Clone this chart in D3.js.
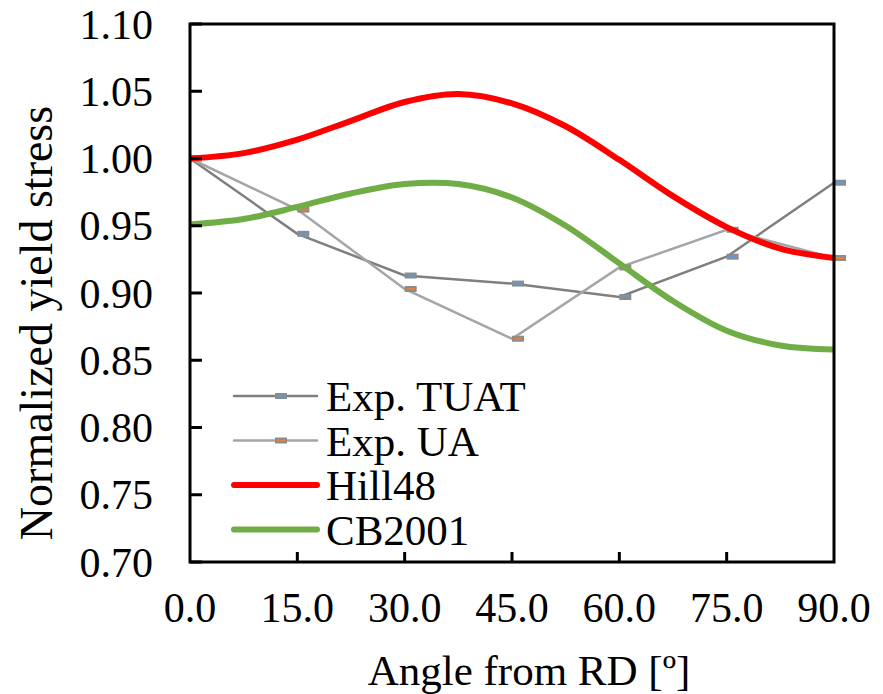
<!DOCTYPE html>
<html>
<head>
<meta charset="utf-8">
<script src="https://cdn.jsdelivr.net/npm/d3@7"></script>
<style>
  html, body { margin: 0; padding: 0; background: #fff; }
  svg { display: block; }
  text { font-family: "Liberation Serif", "Times New Roman", serif; fill: #000; }
</style>
</head>
<body>
<svg id="chart" width="883" height="694"></svg>
<script>
// Angles from the rolling direction [deg]
const angles = [0, 15, 30, 45, 60, 75, 90];
const xTickLabels = ["0.0", "15.0", "30.0", "45.0", "60.0", "75.0", "90.0"];
const yTicks = [0.70, 0.75, 0.80, 0.85, 0.90, 0.95, 1.00, 1.05, 1.10];

// Measured normalized yield stress
const expTUAT = [1.000, 0.944, 0.913, 0.907, 0.897, 0.927, 0.982];
const expUA   = [1.000, 0.962, 0.903, 0.866, 0.919, 0.947, 0.926];

// Model predictions, sampled every 7.5 deg
const modelAngles = [0, 7.5, 15, 22.5, 30, 37.5, 45, 52.5, 60, 67.5, 75, 82.5, 90];
const hill48 = [1.000, 1.004, 1.014, 1.028, 1.042, 1.048, 1.041, 1.024, 0.999, 0.972, 0.949, 0.933, 0.926];
const cb2001 = [0.951, 0.955, 0.964, 0.974, 0.981, 0.981, 0.971, 0.950, 0.922, 0.894, 0.872, 0.861, 0.858];

const svg = d3.select("#chart");
const plotL = 190, plotR = 834, plotT = 24, plotB = 562;

const x = d3.scaleLinear().domain([0, 90]).range([plotL, plotR]);
const y = d3.scaleLinear().domain([0.70, 1.10]).range([plotB, plotT]);

// Tick labels
svg.append("g").selectAll("text").data(yTicks).join("text")
  .attr("x", 153).attr("y", d => y(d))
  .attr("dy", "0.35em").attr("text-anchor", "end")
  .style("font-size", "42px")
  .text(d => d.toFixed(2));

svg.append("g").selectAll("text").data(angles).join("text")
  .attr("x", d => x(d)).attr("y", 622)
  .attr("text-anchor", "middle")
  .style("font-size", "42px")
  .text((d, i) => xTickLabels[i]);

// Axis titles
svg.append("text")
  .attr("x", 529).attr("y", 685)
  .attr("text-anchor", "middle").style("font-size", "43px")
  .text("Angle from RD [º]");

svg.append("text")
  .attr("transform", `translate(52, ${(plotT + plotB) / 2 + 30}) rotate(-90)`)
  .attr("text-anchor", "middle").style("font-size", "46px")
  .text("Normalized yield stress");

// Series lines
const line = (xs, ys, curve) => d3.line()
  .x((d, i) => x(xs[i])).y(d => y(d)).curve(curve)(ys);

const plot = svg.append("g");

// Dash markers
function markers(vals, fill) {
  plot.append("g").selectAll("rect").data(vals).join("rect")
    .attr("x", (d, i) => x(angles[i]) + 1).attr("y", d => y(d) - 2)
    .attr("width", 10).attr("height", 4)
    .attr("fill", fill).attr("stroke", "#8c8c8c").attr("stroke-width", 2);
}

plot.append("path").attr("d", line(angles, expTUAT, d3.curveLinear))
  .attr("fill", "none").attr("stroke", "#7f7f7f").attr("stroke-width", 2.5);
markers(expTUAT, "#5b9bd5");
plot.append("path").attr("d", line(angles, expUA, d3.curveLinear))
  .attr("fill", "none").attr("stroke", "#a5a5a5").attr("stroke-width", 2.5);
markers(expUA, "#ed7d31");
plot.append("path").attr("d", line(modelAngles, hill48, d3.curveCatmullRom))
  .attr("fill", "none").attr("stroke", "#ff0000").attr("stroke-width", 6);
plot.append("path").attr("d", line(modelAngles, cb2001, d3.curveCatmullRom))
  .attr("fill", "none").attr("stroke", "#70ad47").attr("stroke-width", 6);

// Frame and ticks
const frame = svg.append("g").attr("stroke", "#000").attr("fill", "none");
frame.append("rect").attr("x", plotL).attr("y", plotT)
  .attr("width", plotR - plotL).attr("height", plotB - plotT)
  .attr("stroke-width", 3);
frame.selectAll("line.yt").data(yTicks).join("line").attr("class", "yt")
  .attr("x1", plotL).attr("x2", plotL + 12)
  .attr("y1", d => y(d)).attr("y2", d => y(d)).attr("stroke-width", 3);
frame.selectAll("line.xt").data(angles.slice(1, -1)).join("line").attr("class", "xt")
  .attr("x1", d => x(d)).attr("x2", d => x(d))
  .attr("y1", plotB).attr("y2", plotB - 10).attr("stroke-width", 3);

// Legend
const legendItems = [
  { name: "Exp. TUAT", color: "#7f7f7f", width: 2.5, marker: "#5b9bd5" },
  { name: "Exp. UA", color: "#a5a5a5", width: 2.5, marker: "#ed7d31" },
  { name: "Hill48", color: "#ff0000", width: 6, marker: null },
  { name: "CB2001", color: "#70ad47", width: 6, marker: null }
];
const legend = svg.append("g");
const rows = legend.selectAll("g").data(legendItems).join("g")
  .attr("transform", (d, i) => `translate(0, ${396 + i * 44.5})`);
rows.append("line").attr("x1", 234).attr("x2", 317)
  .attr("stroke", d => d.color).attr("stroke-width", d => d.width)
  .attr("stroke-linecap", "round");
rows.filter(d => d.marker).append("rect")
  .attr("x", 276).attr("y", -2).attr("width", 10).attr("height", 4)
  .attr("fill", d => d.marker).attr("stroke", "#8c8c8c").attr("stroke-width", 2);
rows.append("text").attr("x", 326).attr("dy", "0.35em")
  .style("font-size", "43px").text(d => d.name);
</script>
</body>
</html>
